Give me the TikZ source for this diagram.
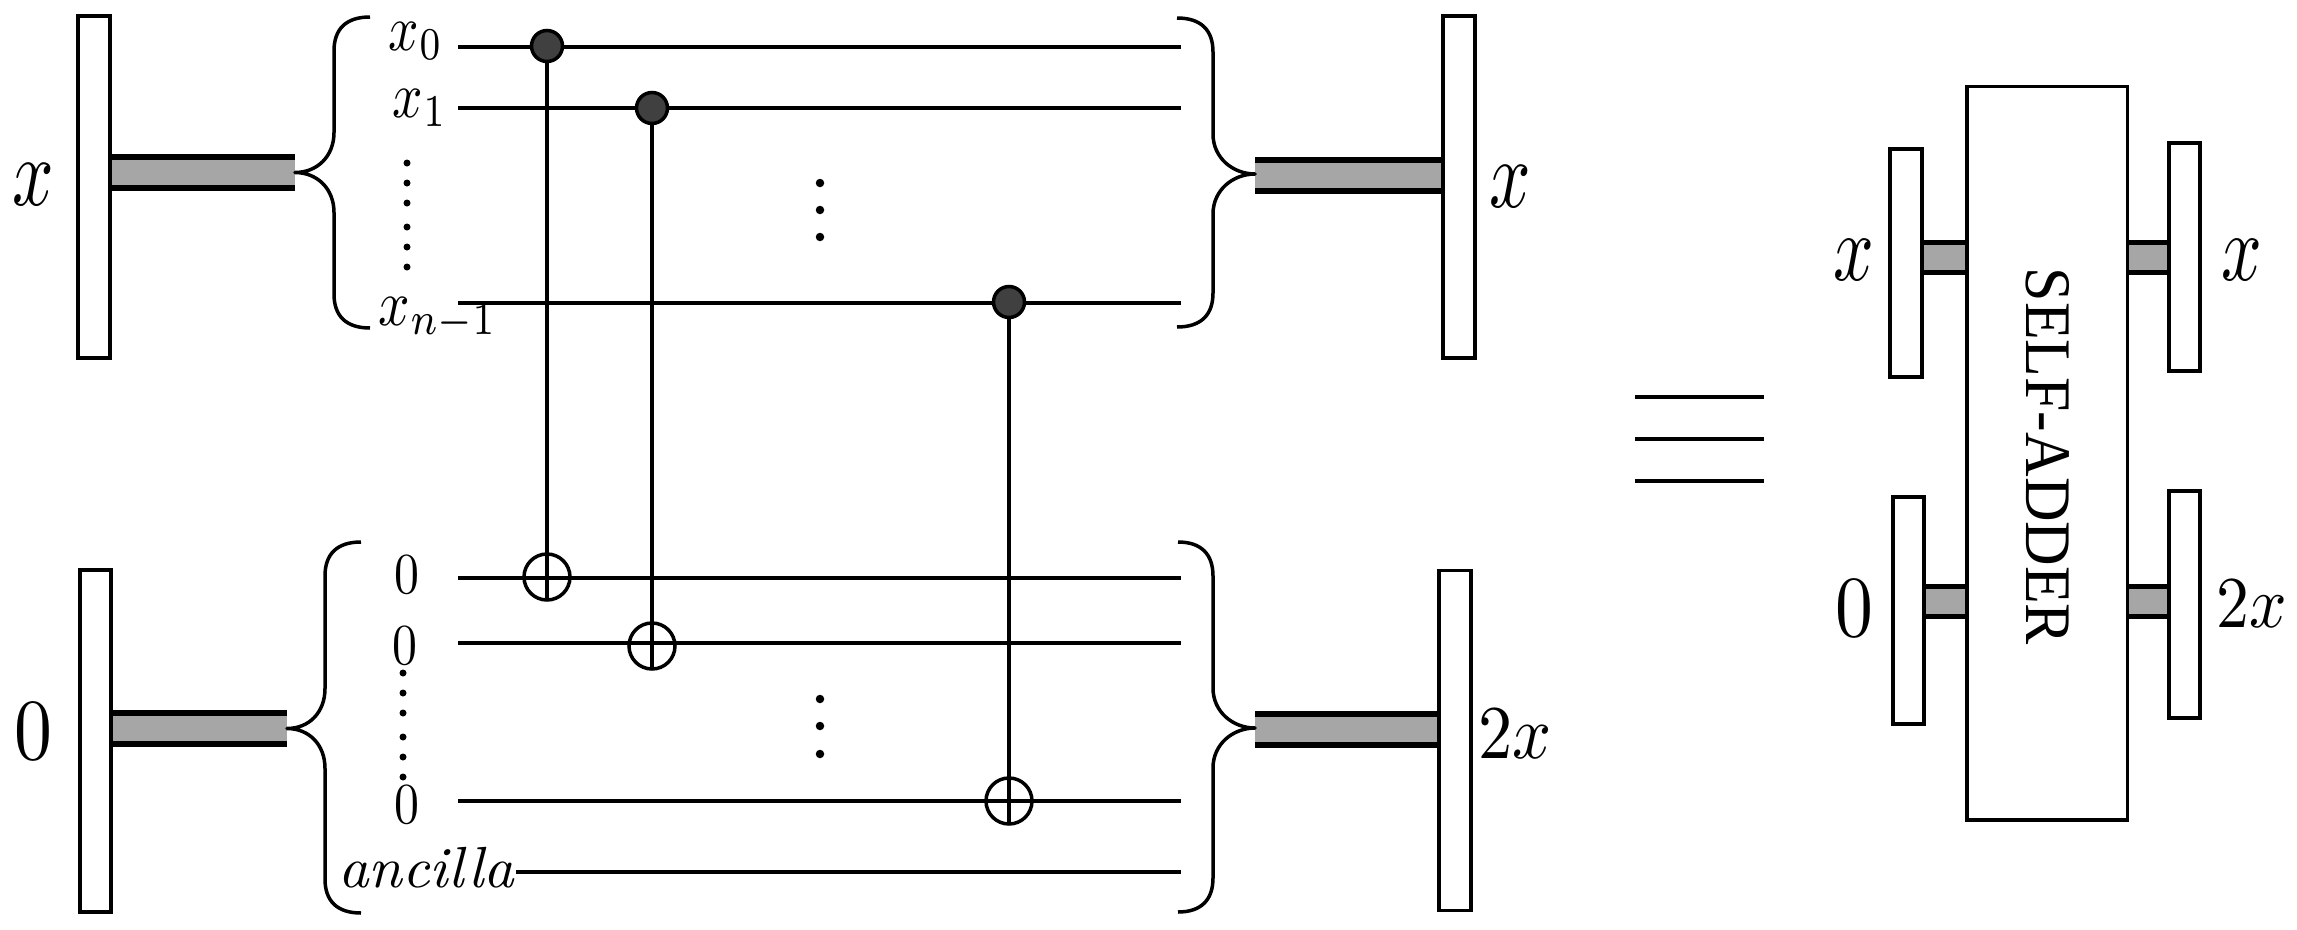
\documentclass[tikz,border=0pt]{standalone}
\usepackage{graphicx}
\usepackage{fontspec}
\usetikzlibrary{backgrounds}
\newfontfamily\timesf{Liberation Serif}
\definecolor{busgrey}{HTML}{A6A6A6}
\definecolor{ctrlgrey}{HTML}{404040}
\newcommand{\sized}[3]{\pgfmathsetmacro\sizey{#1/10}\pgfmathsetmacro\sizex{#1/10*#2}\scalebox{\sizex}[\sizey]{#3}}
\newcommand{\curlyleft}[6]{% end x, spine x, tip x, top y, tip y, bottom y
  \draw[bracepath] (#1,#4) .. controls ({#2+12},#4) and (#2,{#4+12}) .. (#2,{#4+34})
    -- (#2,{#5-40}) .. controls (#2,{#5-16}) and ({#3+22},#5) .. (#3,#5)
    .. controls ({#3+22},#5) and (#2,{#5+16}) .. (#2,{#5+40})
    -- (#2,{#6-34}) .. controls (#2,{#6-12}) and ({#2+12},#6) .. (#1,#6);}
\newcommand{\curlyright}[6]{%
  \draw[bracepath] (#1,#4) .. controls ({#2-12},#4) and (#2,{#4+12}) .. (#2,{#4+34})
    -- (#2,{#5-40}) .. controls (#2,{#5-16}) and ({#3-22},#5) .. (#3,#5)
    .. controls ({#3-22},#5) and (#2,{#5+16}) .. (#2,{#5+40})
    -- (#2,{#6-34}) .. controls (#2,{#6-12}) and ({#2-12},#6) .. (#1,#6);}
\tikzset{
  register/.style={draw=black,fill=white,line width=3.8pt,inner sep=0pt,outer sep=0pt},
  busline/.style={draw=black,line width=6pt,double=busgrey,double distance=25pt,line cap=butt},
  smallbus/.style={draw=black,line width=5pt,double=busgrey,double distance=25pt,line cap=butt},
  wire/.style={draw=black,line width=3.5pt,line cap=butt},
  bracepath/.style={draw=black,line width=3.5pt,line cap=butt,line join=round},
  control/.style={circle,draw=black,fill=ctrlgrey,line width=3.5pt,minimum size=31pt,inner sep=0pt,outer sep=0pt},
  target/.style={circle,draw=black,line width=3.5pt,minimum size=46pt,inner sep=0pt,outer sep=0pt},
  dotmark/.style={circle,fill=black,minimum size=#1,inner sep=0pt,outer sep=0pt},
  lab/.style={anchor=base,inner sep=0pt,outer sep=0pt},
}
\begin{document}
\begin{tikzpicture}[x=1pt,y=-1pt]
\useasboundingbox (0,0) rectangle (2297,929);
% main registers
\node[register,minimum width=32pt,minimum height=342pt] (rxin) at (94,187) {};
\node[register,minimum width=31pt,minimum height=342pt] (rzin) at (95.5,741) {};
\node[register,minimum width=32pt,minimum height=342pt] (rxout) at (1459,187) {};
\node[register,minimum width=32pt,minimum height=340pt] (rzout) at (1455,740.5) {};
% brace tips
\coordinate (tipa) at (295,172.5);
\coordinate (tipb) at (287,728.5);
\coordinate (tipc) at (1255,175.5);
\coordinate (tipd) at (1255,729.5);
% controls and targets
\node[control] (c0) at (547,46) {};
\node[control] (c1) at (652,108) {};
\node[control] (c2) at (1009,302) {};
\node[target] (t0) at (547,577) {};
\node[target] (t1) at (652,646) {};
\node[target] (t2) at (1009,801) {};
% wire ends
\coordinate (w0a) at (458,47);   \coordinate (w0b) at (1181,47);
\coordinate (w1a) at (458,108);  \coordinate (w1b) at (1181,108);
\coordinate (w2a) at (458,303);  \coordinate (w2b) at (1181,303);
\coordinate (w3a) at (458,578);  \coordinate (w3b) at (1181,578);
\coordinate (w4a) at (458,643);  \coordinate (w4b) at (1181,643);
\coordinate (w5a) at (458,801);  \coordinate (w5b) at (1181,801);
\coordinate (w6a) at (516,872);  \coordinate (w6b) at (1181,872);
% self-adder block
\node[register,minimum width=160.5pt,minimum height=733.5pt] (adder) at (2047.25,453.25) {};
\node[register,minimum width=32pt,minimum height=228pt] (sxin) at (1906,263) {};
\node[register,minimum width=31pt,minimum height=227pt] (szin) at (1908.5,610.5) {};
\node[register,minimum width=31pt,minimum height=228pt] (sxout) at (2184.5,257) {};
\node[register,minimum width=31pt,minimum height=227pt] (szout) at (2184.5,604.5) {};
\coordinate (sb1) at (1967,257.5);
\coordinate (sb2) at (1967,601.5);
\coordinate (sb3) at (2127.5,257.5);
\coordinate (sb4) at (2127.5,601.5);
\begin{scope}[on background layer]
  \fill[white] (0,0) rectangle (2297,929);
  \foreach \n in {0,...,6} \draw[wire] (w\n a) -- (w\n b);
  \draw[wire] (c0) -- (t0.south);
  \draw[wire] (c1) -- (t1.south);
  \draw[wire] (c2) -- (t2.south);
  \draw[busline] (rxin.east |- tipa) -- (tipa);
  \draw[busline] (rzin.east |- tipb) -- (tipb);
  \draw[busline] (tipc) -- (tipc -| rxout.west);
  \draw[busline] (tipd) -- (tipd -| rzout.west);
  \draw[smallbus] (sxin.east |- sb1) -- (sb1);
  \draw[smallbus] (szin.east |- sb2) -- (sb2);
  \draw[smallbus] (sb3) -- (sb3 -| sxout.west);
  \draw[smallbus] (sb4) -- (sb4 -| szout.west);
\end{scope}
% braces
\curlyleft{370}{334}{295}{17}{172.5}{328}
\curlyleft{361}{325}{287}{542}{728.5}{913}
\curlyright{1177}{1213}{1255}{18}{174}{327}
\curlyright{1178}{1213}{1255}{542}{728}{912}
% dots
\foreach \i/\y in {1/163,2/183,3/203,4/227,5/247,6/267} \node[dotmark=7pt] (da\i) at (407,\y) {};
\foreach \i/\y in {1/673,2/693,3/713,4/737,5/757,6/777} \node[dotmark=7pt] (db\i) at (403,\y) {};
\foreach \i/\y in {1/183,2/210,3/237} \node[dotmark=8.5pt] (dc\i) at (820,\y) {};
\foreach \i/\y in {1/699,2/726,3/754} \node[dotmark=8.5pt] (dd\i) at (820,\y) {};
% equivalence
\coordinate (e1a) at (1635,397); \coordinate (e1b) at (1764,397);
\coordinate (e2a) at (1635,439); \coordinate (e2b) at (1764,439);
\coordinate (e3a) at (1635,481); \coordinate (e3b) at (1764,481);
\draw[wire] (e1a) -- (e1b);
\draw[wire] (e2a) -- (e2b);
\draw[wire] (e3a) -- (e3b);
% labels
\node[lab] (lxin) at (33,205) {\sized{97}{.75}{$x$}};
\node[lab] (lzin) at (33,759) {\sized{87}{.87}{$0$}};
\node[lab] (lxout) at (1510,207) {\sized{97}{.75}{$x$}};
\node[lab] (lzout) at (1515,758) {\sized{76}{.9}{$2x$}};
\node[lab] (lx0) at (416,50) {\sized{65}{.82}{$x_0$}};
\node[lab] (lx1) at (420,117) {\sized{65}{.82}{$x_1$}};
\node[lab] (lxn) at (438,325) {\sized{65}{.85}{$x_{n-1}$}};
\node[lab] (lz0) at (407,593) {\sized{58}{.86}{$0$}};
\node[lab] (lz1) at (405,664) {\sized{58}{.86}{$0$}};
\node[lab] (lz2) at (407,823) {\sized{58}{.86}{$0$}};
\node[lab] (lanc) at (426.5,887) {\sized{58}{1.03}{\textit{ancilla}}};
\node[lab] (sl1) at (1854,280) {\sized{95}{.75}{$x$}};
\node[lab] (sl2) at (1854.5,636) {\sized{87}{.87}{$0$}};
\node[lab] (sl3) at (2242,280) {\sized{95}{.75}{$x$}};
\node[lab] (sl4) at (2252,627) {\sized{73}{.9}{$2x$}};
\node[rotate=-90,inner sep=0pt,outer sep=0pt] (adderlabel) at (2047.5,456.5) {\sized{65}{.95}{\timesf SELF-ADDER}};
\end{tikzpicture}
\end{document}
